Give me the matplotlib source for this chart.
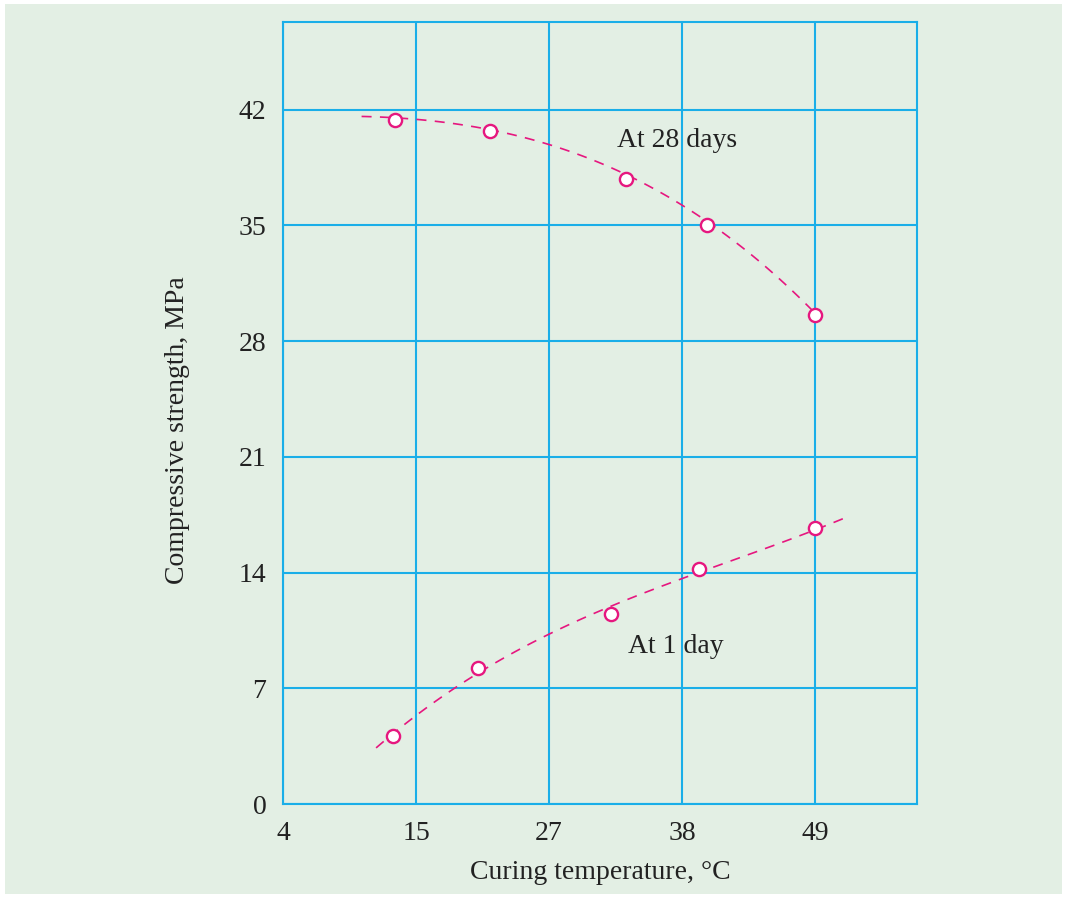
import matplotlib.pyplot as plt
import matplotlib.patches as patches
import numpy as np

# tick labels on the x axis are equally spaced although not evenly valued
temp_ticks = [4, 15, 27, 38, 49]
strength_ticks = [0, 7, 14, 21, 28, 35, 42]

# readings
temp_28d = [13.3, 21.7, 33.4, 40.1, 49.0]
strength_28d = [41.4, 40.7, 37.8, 35.0, 29.6]
temp_1d = [13.1, 20.6, 32.1, 39.4, 49.0]
strength_1d = [4.1, 8.2, 11.5, 14.2, 16.7]

# points
trace_28d_temp = [10.5, 13.3, 17.3, 21.7, 28.9, 33.4, 40.1, 44.8, 49.0]
trace_28d_val = [41.6, 41.5, 41.2, 40.8, 39.6, 37.9, 35.1, 32.8, 29.6]
trace_1d_temp = [11.7, 13.1, 20.6, 27.0, 32.1, 39.4, 44.5, 49.0, 51.7]
trace_1d_val = [3.3, 4.3, 8.1, 10.2, 11.8, 14.0, 15.5, 16.6, 17.3]

grid_col = '#1aaee8'
pink = '#e6177f'
bg = '#e3efe4'
txt = '#222222'

plt.rcParams['font.family'] = ['Liberation Serif', 'DejaVu Serif']


def to_pos(t):
    # map temperature onto the equally spaced tick positions
    t = np.asarray(t, dtype=float)
    pos = np.interp(t, temp_ticks, np.arange(len(temp_ticks)))
    hi = t > temp_ticks[-1]
    pos[hi] = len(temp_ticks) - 1 + (t[hi] - temp_ticks[-1]) / (temp_ticks[-1] - temp_ticks[-2])
    return pos


fig = plt.figure(figsize=(10.66, 8.98), dpi=100)
fig.patch.set_facecolor('white')
fig.patches.append(patches.Rectangle((5 / 1066, 4 / 898), 1057 / 1066, 890 / 898,
                                     transform=fig.transFigure, facecolor=bg,
                                     edgecolor='none', zorder=-1))
ax = fig.add_axes([283 / 1066, 1 - 804 / 898, 634 / 1066, 782 / 898])
ax.set_facecolor(bg)

ax.set_xlim(0, 4.767)
ax.set_ylim(0, 47.3)
ax.set_xticks(np.arange(len(temp_ticks)))
ax.set_xticklabels([str(t) for t in temp_ticks])
ax.set_yticks(strength_ticks)
ax.grid(True, color=grid_col, linewidth=1.5)
ax.set_axisbelow(True)
for s in ax.spines.values():
    s.set_color(grid_col)
    s.set_linewidth(1.5)
ax.tick_params(length=0, labelsize=20, colors=txt, pad=12)

for temps, vals, tr_t, tr_v in [(temp_28d, strength_28d, trace_28d_temp, trace_28d_val),
                                (temp_1d, strength_1d, trace_1d_temp, trace_1d_val)]:
    tx = to_pos(tr_t)
    coef = np.polyfit(tx, tr_v, 3)
    xs = np.linspace(tx[0], tx[-1], 120)
    ax.plot(xs, np.polyval(coef, xs), color=pink, linewidth=1.2,
            dashes=(6, 5), zorder=3)
    ax.plot(to_pos(temps), vals, 'o', markersize=9.5, markerfacecolor='white',
            markeredgecolor=pink, markeredgewidth=1.7, zorder=4)

ax.text(to_pos([32.6])[0], 40.15, 'At 28 days', fontsize=20, color=txt,
        ha='left', va='center')
ax.text(to_pos([33.5])[0], 9.55, 'At 1 day', fontsize=20, color=txt,
        ha='left', va='center')

ax.set_xlabel('Curing temperature, °C', fontsize=20, color=txt, labelpad=10)
ax.set_ylabel('Compressive strength, MPa', fontsize=20, color=txt)
ax.yaxis.set_label_coords(-0.147, 0.478)

plt.savefig('out.png', dpi=100, facecolor=fig.get_facecolor())
